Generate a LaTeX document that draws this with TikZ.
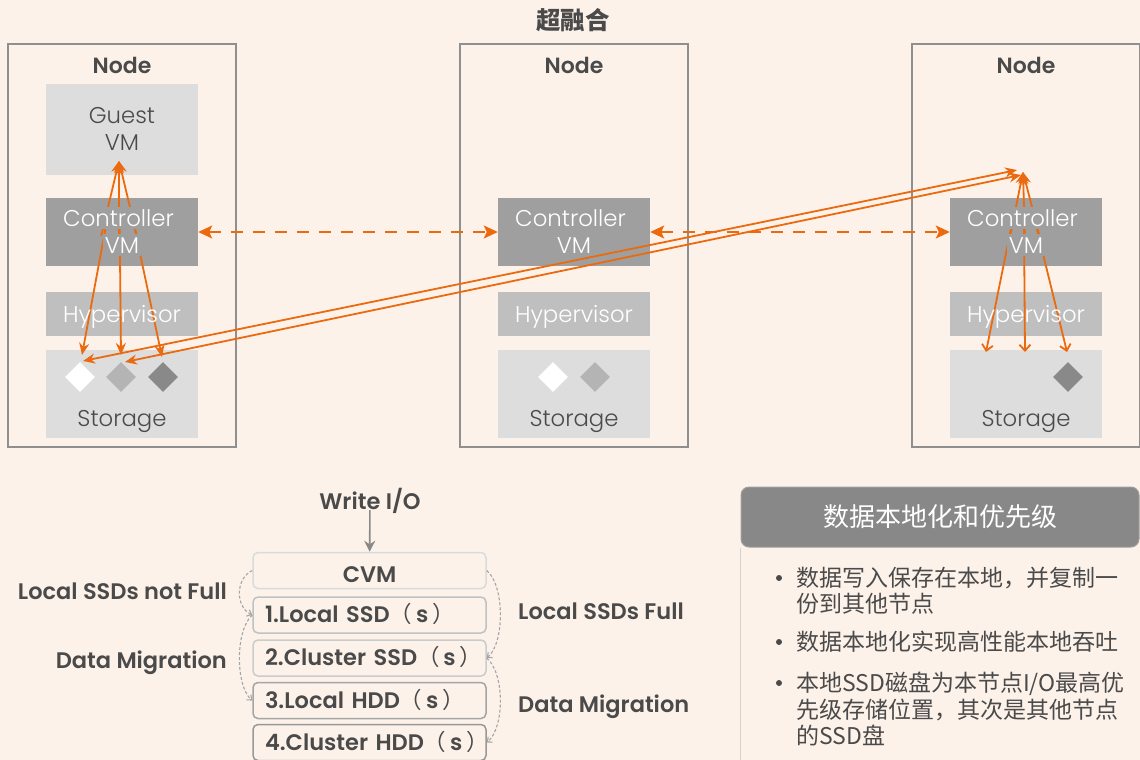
\documentclass[tikz,border=0pt]{standalone}
\usepackage{fontspec}
\setmainfont{Poppins}[UprightFont={* Light}, BoldFont={* SemiBold}]
\newfontfamily\cjk{Noto Sans CJK SC}
\usetikzlibrary{arrows.meta,shapes.geometric}
\newcommand\fsz[1]{\fontsize{#1}{#1}\selectfont}
\newcommand\unitparen{{\cjk\mdseries （}\,s\,{\cjk\mdseries ）}}

\definecolor{paper}{HTML}{FDF2EA}
\definecolor{ink}{HTML}{4A4A4A}
\definecolor{accent}{HTML}{EB6A10}
\definecolor{framegray}{HTML}{8F8F8F}
\definecolor{palebox}{HTML}{DCDDDC}
\definecolor{ctrlbox}{HTML}{9E9F9E}
\definecolor{hypbox}{HTML}{BEBFBE}
\definecolor{hdrbox}{HTML}{888888}
\definecolor{dmid}{HTML}{B4B4B4}
\definecolor{ddark}{HTML}{898989}
\definecolor{migr}{HTML}{A5A5A5}
\definecolor{tierA}{HTML}{D7DBDC}
\definecolor{tierB}{HTML}{BFC2C3}
\definecolor{tierC}{HTML}{C9CCCD}
\definecolor{tierD}{HTML}{A3A4A4}
\definecolor{tierE}{HTML}{979898}
\definecolor{bodyline}{HTML}{D2D2D2}

\begin{document}
\begin{tikzpicture}[x=1pt,y=-1pt,
  hostframe/.style={draw=framegray, line width=1.4pt, minimum width=228pt, minimum height=403pt, inner sep=0pt},
  layer/.style={minimum width=152pt, inner sep=0pt, draw=none},
  disk/.style={diamond, minimum width=30pt, minimum height=30pt, inner sep=0pt},
  latin/.style={font=\fsz{22.8}, text height=16pt, text depth=0pt, inner sep=0pt},
  hosttitle/.style={font=\bfseries\fsz{22}, text=ink, text height=15.5pt, text depth=0pt, inner sep=0pt},
  darktext/.style={latin, text=ink},
  lighttext/.style={latin, text=white},
  ctrltext/.style={latin, text=white, fill=ctrlbox, inner xsep=2pt, inner ysep=3pt},
  flow/.style={draw=accent, line width=1.8pt, -{Stealth[length=12pt,width=10pt]}},
  openflow/.style={draw=accent, line width=1.8pt, -{Straight Barb[length=6pt,width=11pt,line width=1.8pt]}},
  link/.style={draw=accent, line width=1.8pt, {Stealth[length=12pt,width=10pt]}-{Stealth[length=12pt,width=10pt]}},
  peer/.style={draw=accent, line width=1.8pt, dash pattern=on 12pt off 10pt,
    {Stealth[length=14pt,width=13pt,inset=3pt]}-{Stealth[length=14pt,width=13pt,inset=3pt]}},
  boldlabel/.style={font=\bfseries\fsz{22.5}, text=ink, text height=15.8pt, text depth=0pt, inner sep=0pt},
  tier/.style={boldlabel, rounded corners=5pt, minimum width=233pt, minimum height=36pt, fill=paper,
    line width=1.5pt, inner xsep=12pt, inner ysep=0pt, text width=209pt, align=left},
  mig/.style={draw=migr, line width=1.1pt, dash pattern=on 3pt off 2pt,
    -{Straight Barb[length=4pt,width=7pt,line width=1.1pt]}},
  cjktext/.style={font=\cjk\fsz{23}, text=ink, text height=19.5pt, text depth=2pt, inner sep=0pt, anchor=west},
  dot/.style={circle, fill=ink, minimum size=6pt, inner sep=0pt}
]
\useasboundingbox (0,0) rectangle (1140,760);
\clip (0,0) rectangle (1140,760);
\fill[paper] (0,0) rectangle (1140,760);

% title
\node[font=\cjk\bfseries\fsz{24.5}, text=ink] (title) at (573,20) {超融合};

% three hosts
\foreach \k/\cx in {1/122, 2/574, 3/1026}{
  \node[hostframe] (host\k) at (\cx,245.5) {};
  \node[hosttitle] (hostlbl\k) at (\cx,65.5) {Node};
  \node[layer, fill=ctrlbox, minimum height=68pt] (ctrl\k) at (\cx,232) {};
  \node[layer, fill=hypbox, minimum height=44pt] (hyp\k) at (\cx,314) {};
  \node[layer, fill=palebox, minimum height=88pt] (stor\k) at (\cx,394) {};
}
\node[layer, fill=palebox, minimum height=91pt] (guest1) at (122,129.5) {};

% disks
\node[disk, fill=white] (d11) at (80,377) {};
\node[disk, fill=dmid] (d12) at (121,377) {};
\node[disk, fill=ddark] (d13) at (163,377) {};
\node[disk, fill=white] (d21) at (553,377) {};
\node[disk, fill=dmid] (d22) at (595,377) {};
\node[disk, fill=ddark] (d33) at (1068,377) {};

% arrow end points
\coordinate (gin) at (119,161);
\coordinate (rin) at (1023,172);
\coordinate (t11) at (82,355);
\coordinate (t12) at (121,355);
\coordinate (t13) at (162,357);
\coordinate (t31) at (986,352);
\coordinate (t32) at (1025,352);
\coordinate (t33) at (1067,352);
\coordinate (la1) at (83,361);
\coordinate (lb1) at (125,362);
\coordinate (la2) at (1017,170);
\coordinate (lb2) at (1021,175);

% local reads and writes, left host
\draw[flow] (101.2,236) -- (gin);
\draw[flow] (119,236) -- (gin);
\draw[flow] (136.8,236) -- (gin);
\draw[flow] (105.4,229) -- (t11);
\draw[flow] (119.7,229) -- (t12);
\draw[flow] (134.8,229) -- (t13);

% right host
\draw[flow] (1010.2,236) -- (rin);
\draw[flow] (1024.8,236) -- (rin);
\draw[flow] (1039.5,236) -- (rin);
\draw[openflow] (1010.9,229) -- (t31);
\draw[openflow] (1024,229) -- (t32);
\draw[openflow] (1036.9,229) -- (t33);

% replication across hosts
\draw[link] (la1) -- (la2);
\draw[link] (lb1) -- (lb2);

% controller to controller
\draw[peer] (ctrl1.east) -- (ctrl2.west);
\draw[peer] (ctrl2.east) -- (ctrl3.west);

% layer captions
\node[darktext] (gtxt1) at (122,115) {Guest};
\node[darktext] (gtxt2) at (122,142.5) {VM};
\foreach \k/\cx in {1/122, 2/574, 3/1026}{
  \node[ctrltext] (ctxt\k) at (\cx-3.5,218) {Controller};
  \node[ctrltext] (cvtxt\k) at (\cx,245) {VM};
  \node[lighttext] (htxt\k) at (\cx,314) {Hypervisor};
  \node[darktext] (stxt\k) at (\cx,418) {Storage};
}

% write path
\node[boldlabel] (wio) at (370,502) {Write I/O};
\node[tier, draw=tierA, align=center, text height=23.8pt] (cvm) at (369.5,570.5) {CVM};
\node[tier, draw=tierB] (l1) at (369.5,615) {1.Local~SSD\unitparen};
\node[tier, draw=tierC] (l2) at (369.5,658) {2.Cluster~SSD\unitparen};
\node[tier, draw=tierD] (l3) at (369.5,700.5) {3.Local~HDD\unitparen};
\node[tier, draw=tierE] (l4) at (369.5,742.5) {4.Cluster~HDD\unitparen};
\draw[draw=ddark, line width=1.6pt, -{Stealth[length=11pt,width=11pt]}] (wio) -- (cvm);

\draw[mig] (cvm.west) .. controls +(-17,8) and +(-17,-8) .. (l1.west);
\draw[mig] (l1.west) .. controls +(-17,15) and +(-17,-15) .. (l3.west);
\draw[mig] (cvm.east) .. controls +(18,15) and +(18,-15) .. (l2.east);
\draw[mig] (l2.east) .. controls +(18,15) and +(18,-15) .. (l4.east);

\node[boldlabel, anchor=east] (nf) at (227,592) {Local SSDs not Full};
\node[boldlabel, anchor=east] (dm1) at (227,660.5) {Data Migration};
\node[boldlabel, anchor=west] (ff) at (518,611.5) {Local SSDs Full};
\node[boldlabel, anchor=west] (dm2) at (518,705) {Data Migration};

% summary panel
\node[rounded corners=8pt, fill=hdrbox, draw=ctrlbox, line width=1pt, minimum width=398pt, minimum height=60pt,
  font=\cjk\fsz{26}, text=white, inner sep=0pt] (hd) at (940,517) {数据本地化和优先级};
\draw[draw=bodyline, line width=1.4pt] (hd.south west) -- ++(0,240);

\node[dot] (p1) at (779,578) {};
\node[dot] (p2) at (779,642) {};
\node[dot] (p3) at (779,683) {};
\node[cjktext] (b1a) at (796,578) {数据写入保存在本地，并复制一};
\node[cjktext] (b1b) at (796,604) {份到其他节点};
\node[cjktext] (b2) at (796,642) {数据本地化实现高性能本地吞吐};
\node[cjktext] (b3a) at (796,683) {本地SSD磁盘为本节点I/O最高优};
\node[cjktext] (b3b) at (796,709.5) {先级存储位置，其次是其他节点};
\node[cjktext] (b3c) at (796,736) {的SSD盘};
\end{tikzpicture}
\end{document}
